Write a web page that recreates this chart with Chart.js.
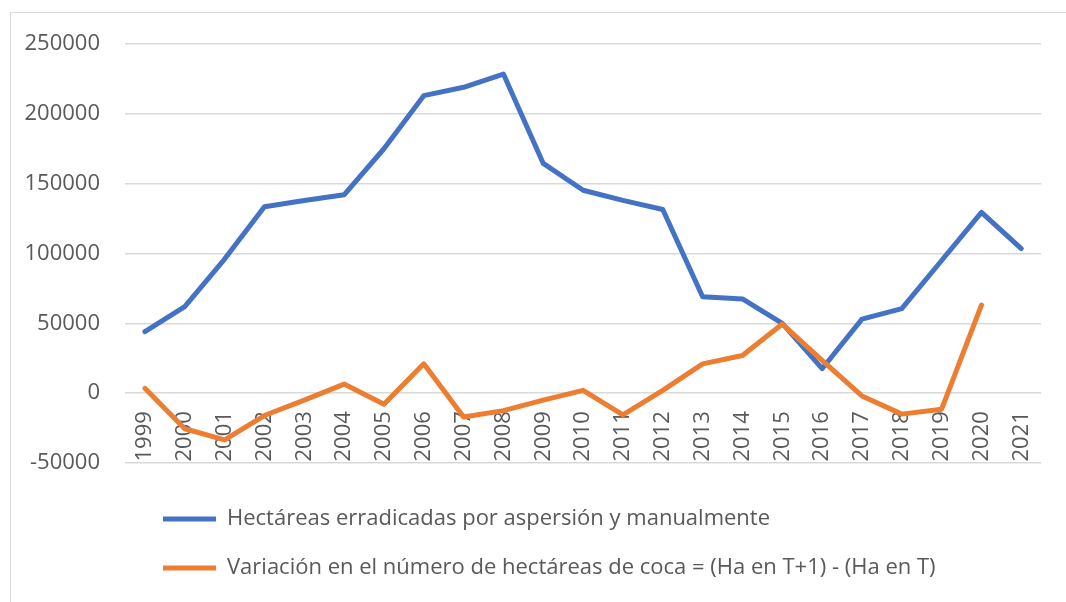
<!DOCTYPE html>
<html>
<head>
<meta charset="utf-8">
<script src="https://cdn.jsdelivr.net/npm/chart.js@4/dist/chart.umd.min.js"></script>
<style>
  html, body { margin: 0; padding: 0; background: #fff; overflow: hidden; }
  #wrap { position: relative; width: 1066px; height: 602px; }
  #frame { position: absolute; left: 10px; top: 12px; width: 1100px; height: 700px; border: 1px solid #d9d9d9; pointer-events: none; }
</style>
</head>
<body>
<div id="wrap">
  <div id="frame"></div>
  <canvas id="chart" width="1066" height="602"></canvas>
</div>
<script>
const years = ['1999', '2000', '2001', '2002', '2003', '2004', '2005', '2006', '2007', '2008', '2009', '2010',
               '2011', '2012', '2013', '2014', '2015', '2016', '2017', '2018', '2019', '2020', '2021'];
const erradicadas = [44000, 62000, 96000, 133500, 138000, 142000, 175000, 213000, 219000, 228500, 164500, 145300,
                     138000, 131500, 69000, 67500, 50000, 17500, 53000, 60500, 95000, 129500, 103500];
const variacion = [3500, -25500, -33500, -16000, -5000, 6500, -8000, 21000, -17000, -12500, -5000, 2000,
                   -15500, 2000, 21000, 27000, 49500, 23500, -2000, -15000, -11500, 63000, null];
const yTicks = { min: -50000, max: 250000, step: 50000 };

const labelsFont = { family: "'Open Sans', 'Noto Sans', sans-serif", size: 22 };
const textColor = '#595959';

// legend rows sit further right and a bit lower than Chart.js would put them
const legendShift = {
    id: 'legendShift',
    afterLayout(chart) {
        var lg = chart.legend;
        lg.left = 136;
        lg.right = 1056;
        lg.top = 481;
        lg.bottom = 602;
        lg.width = lg.right - lg.left;
        lg.height = lg.bottom - lg.top;
    }
};

var ctx = document.getElementById('chart').getContext('2d');
var chart = new Chart(ctx, {
    type: 'line',
    data: {
        labels: years,
        datasets: [
            {
                label: 'Hectáreas erradicadas por aspersión y manualmente',
                data: erradicadas,
                borderColor: '#4472C4',
                backgroundColor: '#4472C4',
                order: 1
            },
            {
                label: 'Variación en el número de hectáreas de coca = (Ha en T+1) - (Ha en T)',
                data: variacion,
                borderColor: '#ED7D31',
                backgroundColor: '#ED7D31',
                order: 0
            }
        ]
    },
    options: {
        responsive: false,
        animation: false,
        layout: {
            padding: { left: 10, top: 44, right: 14, bottom: 31 }
        },
        elements: {
            line: { borderWidth: 5, tension: 0, borderCapStyle: 'round', borderJoinStyle: 'round' },
            point: { radius: 0, hoverRadius: 0 }
        },
        plugins: {
            tooltip: { enabled: false },
            legend: {
                position: 'bottom',
                align: 'start',
                labels: {
                    font: labelsFont,
                    color: textColor,
                    boxWidth: 53,
                    boxHeight: 5,
                    padding: 27,
                    sort: function (a, b) { return a.datasetIndex - b.datasetIndex; },
                    generateLabels: function (chart) {
                        var items = Chart.defaults.plugins.legend.labels.generateLabels(chart);
                        items.forEach(function (it) {
                            it.lineWidth = 0;
                            it.fillStyle = it.strokeStyle;
                        });
                        return items;
                    }
                }
            }
        },
        scales: {
            x: {
                position: { y: 0 },
                offset: true,
                grid: { display: false, drawTicks: false },
                border: { display: false },
                ticks: {
                    font: labelsFont,
                    color: textColor,
                    minRotation: 90,
                    maxRotation: 90,
                    autoSkip: false,
                    padding: 18
                },
                afterFit: function (scale) { scale.height = 0; }
            },
            y: {
                min: yTicks.min,
                max: yTicks.max,
                grid: { color: '#d9d9d9', lineWidth: 1.5, drawTicks: false },
                border: { display: false },
                ticks: {
                    stepSize: yTicks.step,
                    font: labelsFont,
                    color: textColor,
                    padding: 25,
                    callback: function (v) { return String(v); }
                },
                afterFit: function (scale) { scale.width = 115; }
            }
        }
    },
    plugins: [legendShift]
});
</script>
</body>
</html>
